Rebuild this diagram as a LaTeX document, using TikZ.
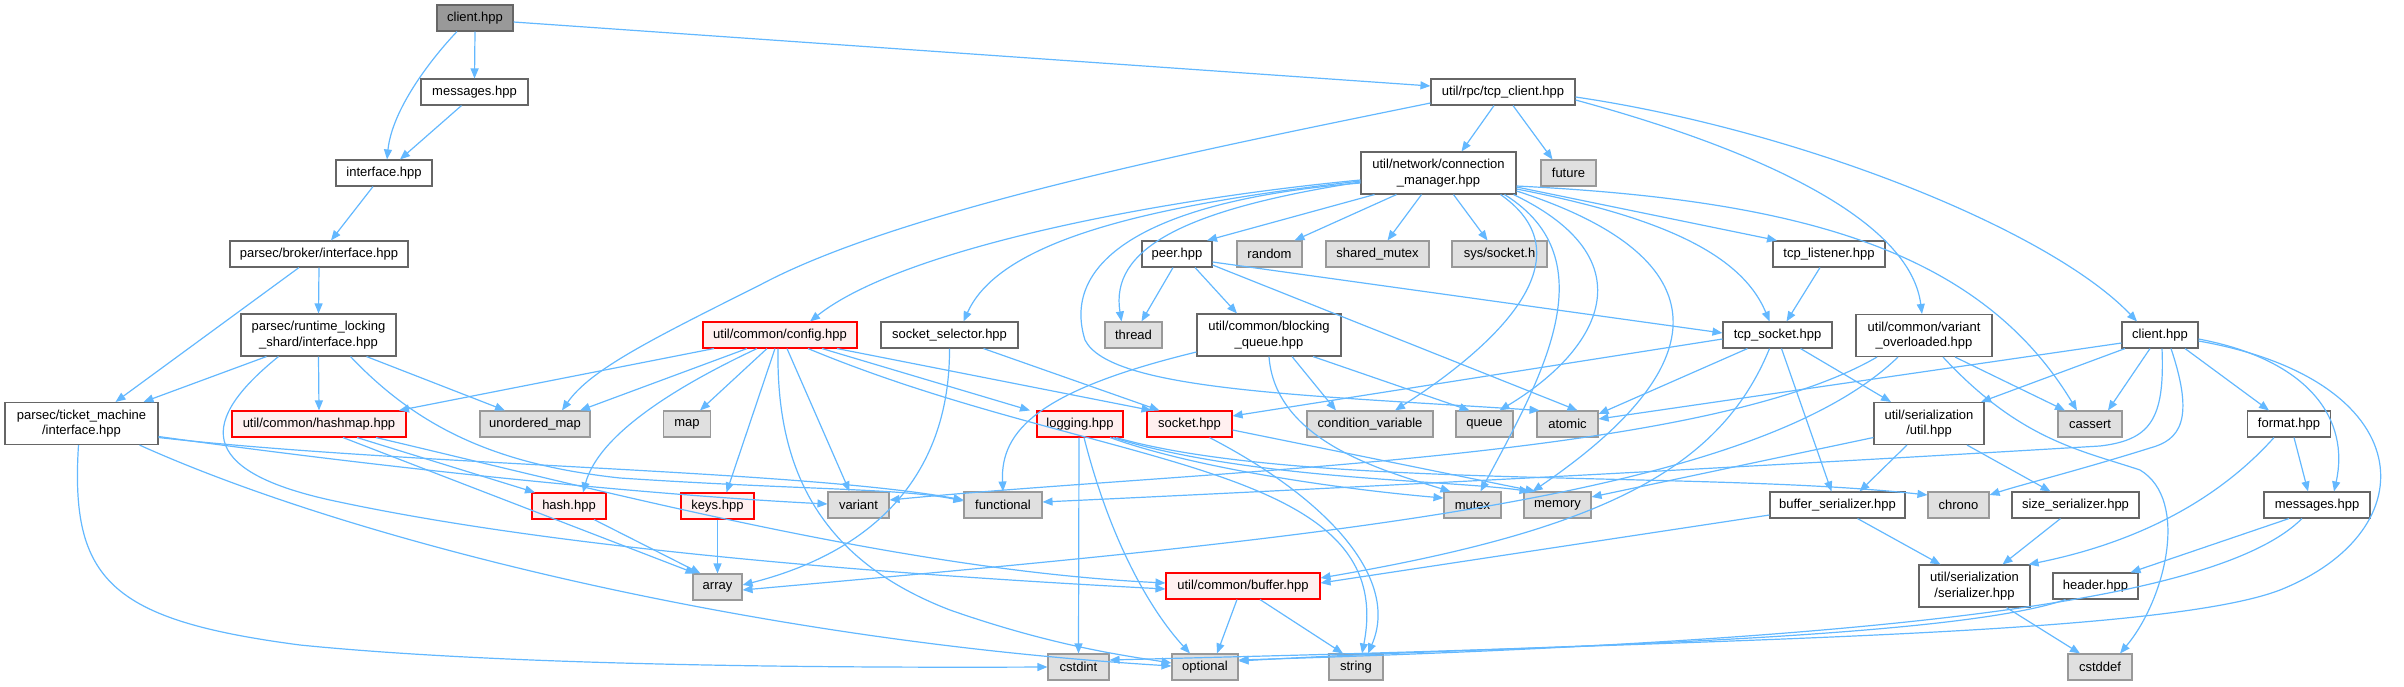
\documentclass[tikz,border=0pt]{standalone}
\usepackage{fontspec}
\setmainfont{Liberation Sans}
\usetikzlibrary{arrows.meta}
\definecolor{cE}{HTML}{63B8FF}
\definecolor{cW}{HTML}{666666}
\definecolor{cG}{HTML}{999999}
\definecolor{cGf}{HTML}{E0E0E0}
\definecolor{cR}{HTML}{FF0000}
\definecolor{cRf}{HTML}{FFF0F0}
\newcommand\nodefont{\fontsize{13}{15.5}\selectfont}
\tikzset{
  nd/.style={draw, line width=1.1pt, inner sep=0pt, minimum height=26pt, align=center, font=\nodefont, text=black},
  wn/.style={nd, draw=cW, fill=white},
  gn/.style={nd, draw=cG, fill=cGf},
  rn/.style={nd, draw=cR, fill=cRf},
  tn/.style={nd, draw=cW, fill=cG},
  two/.style={minimum height=42pt},
  edge/.style={draw=cE, line width=1.2pt, -{Triangle[length=10pt,width=8pt]}},
}
\begin{document}
\begin{tikzpicture}[x=1pt,y=-1pt]
\useasboundingbox (0,0) rectangle (2404,686);
% nodes
\node[tn, minimum width=76pt] (client0) at (475,18) {client.hpp};
\node[wn, minimum width=107pt] (messages1) at (474.5,92) {messages.hpp};
\node[wn, minimum width=96pt] (interface) at (384,173) {interface.hpp};
\node[wn, minimum width=178pt] (broker) at (319,254) {parsec/broker/interface.hpp};
\node[wn, two, minimum width=155pt] (runtime) at (318.5,335) {parsec/runtime\_locking\\\_shard/interface.hpp};
\node[wn, two, minimum width=153pt] (ticket) at (81.5,423.5) {parsec/ticket\_machine\\/interface.hpp};
\node[rn, minimum width=174pt] (hashmap) at (319,424) {util/common/hashmap.hpp};
\node[gn, minimum width=110pt] (unordered) at (535,424) {unordered\_map};
\node[gn, minimum width=47pt] (map) at (687,424) {map};
\node[rn, minimum width=154pt] (config) at (780,335) {util/common/config.hpp};
\node[wn, minimum width=137pt] (sselector) at (949.5,335) {socket\_selector.hpp};
\node[gn, minimum width=57pt] (thread) at (1133.5,335) {thread};
\node[wn, two, minimum width=144pt] (bqueue) at (1269,335) {util/common/blocking\\\_queue.hpp};
\node[wn, minimum width=70pt] (peer) at (1177,254) {peer.hpp};
\node[gn, minimum width=65pt] (random) at (1269.5,254) {random};
\node[gn, minimum width=103pt] (shmutex) at (1377.5,254) {shared\_mutex};
\node[gn, minimum width=95pt] (syssock) at (1499.5,254) {sys/socket.h};
\node[wn, two, minimum width=155pt] (connmgr) at (1438.5,173) {util/network/connection\\\_manager.hpp};
\node[gn, minimum width=55pt] (future) at (1568.5,173) {future};
\node[wn, minimum width=144pt] (tcpclient) at (1503,92) {util/rpc/tcp\_client.hpp};
\node[wn, minimum width=112pt] (tcplistener) at (1829,254) {tcp\_listener.hpp};
\node[wn, minimum width=109pt] (tcpsocket) at (1777.5,335) {tcp\_socket.hpp};
\node[wn, two, minimum width=136pt] (varover) at (1924,335.5) {util/common/variant\\\_overloaded.hpp};
\node[wn, minimum width=76pt] (client2) at (2160,335) {client.hpp};
\node[rn, minimum width=74pt] (hash) at (569,506) {hash.hpp};
\node[rn, minimum width=73pt] (keys) at (717.5,506) {keys.hpp};
\node[gn, minimum width=61pt] (variant) at (858.5,505) {variant};
\node[gn, minimum width=78pt] (functional) at (1003,505) {functional};
\node[gn, minimum width=49pt] (array) at (717.5,587) {array};
\node[gn, minimum width=61pt] (cstdint) at (1078.5,667) {cstdint};
\node[rn, minimum width=86pt] (logging) at (1080,424) {logging.hpp};
\node[rn, minimum width=85pt] (socket) at (1189.5,424) {socket.hpp};
\node[gn, minimum width=126pt] (condvar) at (1370,424) {condition\_variable};
\node[gn, minimum width=57pt] (queue) at (1484.5,424) {queue};
\node[gn, minimum width=61pt] (atomic) at (1567.5,424) {atomic};
\node[gn, minimum width=57pt] (mutex) at (1472.5,505) {mutex};
\node[gn, minimum width=67pt] (memory) at (1557.5,505) {memory};
\node[rn, minimum width=154pt] (buffer) at (1243,586) {util/common/buffer.hpp};
\node[gn, minimum width=66pt] (optional) at (1205,667) {optional};
\node[gn, minimum width=54pt] (string) at (1356,667) {string};
\node[wn, two, minimum width=110pt] (sutil) at (1929,423.5) {util/serialization\\/util.hpp};
\node[gn, minimum width=64pt] (cassert) at (2090,424) {cassert};
\node[wn, minimum width=83pt] (format) at (2289,424) {format.hpp};
\node[wn, minimum width=135pt] (bufser) at (1837.5,505) {buffer\_serializer.hpp};
\node[gn, minimum width=61pt] (chrono) at (1958.5,505) {chrono};
\node[wn, minimum width=127pt] (sizeser) at (2075.5,505) {size\_serializer.hpp};
\node[wn, minimum width=106pt] (messages2) at (2317,505) {messages.hpp};
\node[wn, two, minimum width=111pt] (serializer) at (1974.5,586) {util/serialization\\/serializer.hpp};
\node[wn, minimum width=85pt] (header) at (2095.5,586) {header.hpp};
\node[gn, minimum width=64pt] (cstddef) at (2100,667) {cstddef};
% edges
\draw[edge] ([xshift=-18pt]client0.south) .. controls (430,60) and (392,110) .. ([xshift=3pt]interface.north);
\draw[edge] (client0.south) -- (messages1.north);
\draw[edge] ([yshift=-4pt]client0.east) -- ([yshift=6pt]tcpclient.west);
\draw[edge] ([xshift=-13pt]messages1.south) -- ([xshift=16pt]interface.north);
\draw[edge] ([xshift=-11pt]interface.south) -- ([xshift=12pt]broker.north);
\draw[edge] (broker.south) -- (runtime.north);
\draw[edge] ([xshift=-20pt]broker.south) -- ([xshift=34pt]ticket.north);
\draw[edge] ([xshift=-52pt]runtime.south) -- ([xshift=62pt]ticket.north);
\draw[edge] (runtime.south) -- (hashmap.north);
\draw[edge] ([xshift=48pt]runtime.south) -- ([xshift=-30pt]unordered.north);
\draw[edge] ([xshift=-40pt]runtime.south) .. controls (200,420) and (195,470) .. (330,500) .. controls (560,550) and (900,575) .. ([yshift=-3pt]buffer.west);
\draw[edge] ([xshift=32pt]runtime.south) .. controls (420,430) and (500,465) .. (620,478) .. controls (800,490) and (900,488) .. ([yshift=4pt]functional.west);
\draw[edge] ([yshift=-13pt]ticket.east) .. controls (400,470) and (650,495) .. ([yshift=1pt]variant.west);
\draw[edge] ([yshift=-14pt]ticket.east) .. controls (400,465) and (800,470) .. ([yshift=5pt]functional.west);
\draw[edge] ([xshift=58pt]ticket.south) .. controls (350,540) and (750,640) .. ([yshift=1pt]optional.west);
\draw[edge] ([xshift=-3pt]ticket.south) .. controls (70,580) and (110,620) .. (300,645) .. controls (500,665) and (800,668) .. (cstdint.west);
\draw[edge] ([yshift=-11pt]tcpclient.west) .. controls (1200,150) and (900,210) .. (760,285) .. controls (650,340) and (590,370) .. ([xshift=27pt]unordered.north);
\draw[edge] ([xshift=-9pt]tcpclient.south) -- ([xshift=23pt]connmgr.north);
\draw[edge] ([xshift=10pt]tcpclient.south) -- ([xshift=-16pt]future.north);
\draw[edge] ([yshift=-8pt]tcpclient.east) .. controls (1760,150) and (1910,220) .. ([xshift=-2pt]varover.north);
\draw[edge] ([yshift=-5pt]tcpclient.east) .. controls (1800,130) and (2050,230) .. ([xshift=-23pt]client2.north);
% connection manager
\draw[edge] ([xshift=-64pt]connmgr.south) -- ([xshift=30pt]peer.north);
\draw[edge] ([xshift=-42pt]connmgr.south) -- ([xshift=25pt]random.north);
\draw[edge] ([xshift=-17pt]connmgr.south) -- ([xshift=10pt]shmutex.north);
\draw[edge] ([xshift=15pt]connmgr.south) -- ([xshift=-12pt]syssock.north);
\draw[edge] ([yshift=-7pt]connmgr.west) .. controls (1150,200) and (900,250) .. ([xshift=30pt]config.north);
\draw[edge] ([yshift=-8pt]connmgr.west) .. controls (1150,205) and (1000,240) .. ([xshift=14pt]sselector.north);
\draw[edge] ([yshift=-9pt]connmgr.west) .. controls (1180,210) and (1110,250) .. ([xshift=-12pt]thread.north);
\draw[edge] ([yshift=-10pt]connmgr.west) .. controls (1150,200) and (1060,260) .. (1085,340) .. controls (1110,390) and (1300,395) .. ([xshift=-28pt]atomic.north);
\draw[edge] ([xshift=62pt]connmgr.south) .. controls (1580,250) and (1520,330) .. ([xshift=25pt]condvar.north);
\draw[edge] ([xshift=66pt]connmgr.south) .. controls (1610,260) and (1540,380) .. ([xshift=8pt]mutex.north);
\draw[edge] ([xshift=75pt]connmgr.south) .. controls (1650,260) and (1600,350) .. ([xshift=15pt]queue.north);
\draw[edge] ([yshift=-18pt]connmgr.east) .. controls (1700,250) and (1740,350) .. ([xshift=-25pt]memory.north);
\draw[edge] ([yshift=-14pt]connmgr.east) -- ([xshift=-52pt]tcplistener.north);
\draw[edge] ([yshift=-16pt]connmgr.east) .. controls (1650,215) and (1740,250) .. ([xshift=-8pt]tcpsocket.north);
\draw[edge] ([yshift=-13pt]connmgr.east) .. controls (1800,200) and (1980,250) .. ([xshift=-13pt]cassert.north);
% peer
\draw[edge] ([xshift=-4pt]peer.south) -- ([xshift=8pt]thread.north);
\draw[edge] ([xshift=18pt]peer.south) -- ([xshift=-32pt]bqueue.north);
\draw[edge] ([yshift=-8pt]peer.east) -- ([yshift=2pt]tcpsocket.west);
\draw[edge] ([yshift=-11pt]peer.east) -- ([xshift=10pt]atomic.north);
% blocking queue
\draw[edge] ([yshift=-17pt]bqueue.west) .. controls (1040,390) and (1000,430) .. (functional.north);
\draw[edge] (bqueue.south) .. controls (1275,440) and (1380,470) .. ([xshift=-22pt]mutex.north);
\draw[edge] ([xshift=23pt]bqueue.south) -- ([xshift=-34pt]condvar.north);
\draw[edge] ([xshift=44pt]bqueue.south) -- ([xshift=-15pt]queue.north);
% config
\draw[edge] ([xshift=-66pt]config.south) -- ([xshift=80pt]hashmap.north);
\draw[edge] ([xshift=-33pt]config.south) -- ([xshift=45pt]unordered.north);
\draw[edge] ([xshift=-23pt]config.south) .. controls (690,380) and (600,430) .. ([xshift=14pt]hash.north);
\draw[edge] ([xshift=-13pt]config.south) -- ([xshift=13pt]map.north);
\draw[edge] ([xshift=-5pt]config.south) -- ([xshift=9pt]keys.north);
\draw[edge] ([xshift=-2pt]config.south) .. controls (776,470) and (820,560) .. (950,610) .. controls (1050,645) and (1120,655) .. ([yshift=4pt]optional.west);
\draw[edge] ([xshift=7pt]config.south) -- ([xshift=-9pt]variant.north);
\draw[edge] ([xshift=28pt]config.south) .. controls (1100,470) and (1400,460) .. ([xshift=6pt]string.north);
\draw[edge] ([xshift=42pt]config.south) -- ([xshift=-50pt]logging.north);
\draw[edge] ([xshift=57pt]config.south) -- ([xshift=-38pt]socket.north);
% socket selector
\draw[edge] ([xshift=34pt]sselector.south) -- ([xshift=-30pt]socket.north);
\draw[edge] (sselector.south) .. controls (950,470) and (880,550) .. ([yshift=2pt]array.east);
% hashmap, hash, keys
\draw[edge] ([xshift=38pt]hashmap.south) -- ([xshift=-34pt]hash.north);
\draw[edge] ([xshift=24pt]hashmap.south) -- ([xshift=-22pt]array.north);
\draw[edge] ([xshift=57pt]hashmap.south) .. controls (600,490) and (900,570) .. ([yshift=3pt]buffer.west);
\draw[edge] ([xshift=25pt]hash.south) -- ([xshift=-17pt]array.north);
\draw[edge] (keys.south) -- (array.north);
% logging
\draw[edge] ([xshift=-1pt]logging.south) -- (cstdint.north);
\draw[edge] ([xshift=4pt]logging.south) .. controls (1110,540) and (1150,610) .. ([xshift=-15pt]optional.north);
\draw[edge] ([xshift=30pt]logging.south) .. controls (1200,470) and (1350,490) .. ([yshift=7pt]mutex.west);
\draw[edge] ([xshift=33pt]logging.south) .. controls (1250,480) and (1450,480) .. ([xshift=-28pt]memory.north);
\draw[edge] ([xshift=36pt]logging.south) .. controls (1300,490) and (1700,470) .. ([yshift=10pt]chrono.west);
% socket
\draw[edge] ([yshift=-6pt]socket.east) -- ([xshift=-22pt]memory.north);
\draw[edge] ([xshift=20pt]socket.south) .. controls (1330,500) and (1400,580) .. ([xshift=12pt]string.north);
% buffer
\draw[edge] ([xshift=-6pt]buffer.south) -- ([xshift=12pt]optional.north);
\draw[edge] ([xshift=17pt]buffer.south) -- ([xshift=-13pt]string.north);
% tcp listener / socket
\draw[edge] ([xshift=-9pt]tcplistener.south) -- ([xshift=9pt]tcpsocket.north);
\draw[edge] ([yshift=-4pt]tcpsocket.west) -- ([yshift=8pt]socket.east);
\draw[edge] ([xshift=-30pt]tcpsocket.south) -- ([yshift=10pt]atomic.east);
\draw[edge] ([xshift=-8pt]tcpsocket.south) .. controls (1720,470) and (1600,530) .. ([yshift=8pt]buffer.east);
\draw[edge] ([xshift=4pt]tcpsocket.south) -- ([xshift=-6pt]bufser.north);
\draw[edge] ([xshift=23pt]tcpsocket.south) -- ([xshift=-38pt]sutil.north);
% variant overloaded
\draw[edge] ([xshift=-47pt]varover.south) .. controls (1700,460) and (1200,470) .. ([yshift=5pt]variant.east);
\draw[edge] ([xshift=-26pt]varover.south) .. controls (1750,500) and (1300,540) .. ([yshift=-3pt]array.east);
\draw[edge] ([xshift=31pt]varover.south) -- ([xshift=-25pt]cassert.north);
\draw[edge] ([xshift=19pt]varover.south) .. controls (2020,440) and (2080,450) .. (2140,470) .. controls (2190,500) and (2165,600) .. ([xshift=20pt]cstddef.north);
% client (right)
\draw[edge] ([yshift=-8pt]client2.west) -- ([yshift=5pt]atomic.east);
\draw[edge] ([xshift=-35pt]client2.south) -- ([xshift=52pt]sutil.north);
\draw[edge] ([xshift=-10pt]client2.south) -- ([xshift=18pt]cassert.north);
\draw[edge] ([xshift=2pt]client2.south) .. controls (2165,420) and (2150,440) .. (2100,446) .. controls (1700,470) and (1300,490) .. ([yshift=3pt]functional.east);
\draw[edge] ([xshift=11pt]client2.south) .. controls (2195,420) and (2180,440) .. (2150,448) .. controls (2080,470) and (2020,485) .. ([yshift=10pt]chrono.east);
\draw[edge] ([xshift=25pt]client2.south) -- ([xshift=-20pt]format.north);
\draw[edge] ([yshift=-4pt]client2.east) .. controls (2310,360) and (2350,420) .. ([xshift=17pt]messages2.north);
\draw[edge] ([yshift=-6pt]client2.east) .. controls (2420,380) and (2430,530) .. (2280,590) .. controls (2150,640) and (1600,640) .. ([yshift=6pt]optional.east);
% format, messages, header
\draw[edge] ([xshift=5pt]format.south) -- ([xshift=-9pt]messages2.north);
\draw[edge] ([xshift=-15pt]format.south) .. controls (2200,520) and (2100,550) .. ([xshift=-2pt]serializer.north east);
\draw[edge] ([xshift=-28pt]messages2.south) -- ([xshift=35pt]header.north);
\draw[edge] ([xshift=-15pt]messages2.south) .. controls (2220,600) and (1900,640) .. ([yshift=7pt]optional.east);
\draw[edge] ([xshift=-30pt]header.south) .. controls (1950,640) and (1500,650) .. ([yshift=7pt]cstdint.east);
% serialization
\draw[edge] ([xshift=-22pt]sutil.south) -- ([xshift=22pt]bufser.north);
\draw[edge] ([xshift=38pt]sutil.south) -- ([xshift=-25pt]sizeser.north);
\draw[edge] ([yshift=-14pt]sutil.west) -- ([yshift=8pt]memory.east);
\draw[edge] ([xshift=-15pt]sizeser.south) -- ([xshift=28pt]serializer.north);
\draw[edge] ([xshift=20pt]bufser.south) -- ([xshift=-34pt]serializer.north);
\draw[edge] ([yshift=-10pt]bufser.west) -- ([yshift=3pt]buffer.east);
\draw[edge] ([xshift=32pt]serializer.south) -- ([xshift=-20pt]cstddef.north);
\end{tikzpicture}
\end{document}
